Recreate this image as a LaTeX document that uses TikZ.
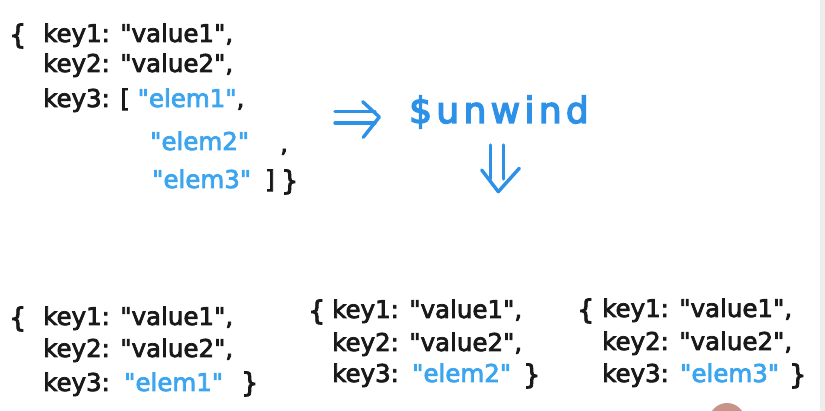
\documentclass[tikz,border=0pt]{standalone}
\usepackage{fontspec}
\setmainfont{DejaVu Sans}[Ligatures=TeXOff, FakeBold=3]
\newfontfamily\handwide{DejaVu Sans}[Ligatures=TeXOff, LetterSpace=12, FakeBold=4]
\newcommand{\dq}{\char"22\relax}
\definecolor{ink}{RGB}{25,25,25}
\definecolor{elemblue}{RGB}{60,165,240}
\definecolor{opblue}{RGB}{45,145,232}
\definecolor{skin}{RGB}{200,148,138}
\tikzset{
  txt/.style={anchor=base west, inner sep=0pt, font=\fontsize{24.5}{24.5}\selectfont, text=ink},
  bluetxt/.style={txt, text=elemblue},
  bracetxt/.style={anchor=base west, inner sep=0pt, font=\fontsize{27}{27}\selectfont, text=ink},
  oparrow/.style={draw=opblue, line width=3.4pt, line cap=round, line join=round},
}
\begin{document}
\begin{tikzpicture}[x=1pt,y=-1pt]
\useasboundingbox (0,0) rectangle (825,411);
\fill[white] (0,0) rectangle (825,411);
\fill[black!7] (820,0) rectangle (825,411);

% top document
\node[bracetxt] (tb) at (9,44) {\{};
\node[txt] (t1) at (43,42) {key1: \dq value1\dq,};
\node[txt] (t2) at (43,72) {key2: \dq value2\dq,};
\node[txt] (t3) at (43,107) {key3: [ \textcolor{elemblue}{\dq elem1\dq},};
\node[bluetxt] (t4) at (150,150) {\dq elem2\dq};
\node[txt] (t4c) at (280,152) {,};
\node[bluetxt] (t5) at (152,188) {\dq elem3\dq};
\node[txt] (t5a) at (265,188) {]};
\node[bracetxt] (t5b) at (281,190) {\}};

% operator
\node[anchor=base west, inner sep=0pt, font=\handwide\fontsize{36}{36}\selectfont, text=opblue] (uw) at (409,123) {\$unwind};

% right double arrow
\coordinate (ra1) at (335,111.7); \coordinate (ra2) at (375,111.7);
\coordinate (rb1) at (335,123);   \coordinate (rb2) at (375,123);
\coordinate (rc1) at (362.7,101.7); \coordinate (rtip) at (379.3,117); \coordinate (rc2) at (363.3,137.3);
\draw[oparrow] (ra1) -- (ra2);
\draw[oparrow] (rb1) -- (rb2);
\draw[oparrow] (rc1) -- (rtip) -- (rc2);

% down double arrow
\coordinate (da1) at (490.7,145); \coordinate (da2) at (490.7,179);
\coordinate (db1) at (503.3,145); \coordinate (db2) at (503.3,179);
\coordinate (dc1) at (481.7,170); \coordinate (dtip) at (498.3,191.7); \coordinate (dc2) at (519.3,168.3);
\draw[oparrow] (da1) -- (da2);
\draw[oparrow] (db1) -- (db2);
\draw[oparrow] (dc1) -- (dtip) -- (dc2);

% result 1
\node[bracetxt] (ab) at (9,327) {\{};
\node[txt] (a1) at (43,325) {key1: \dq value1\dq,};
\node[txt] (a2) at (43,357) {key2: \dq value2\dq,};
\node[txt] (a3) at (43,391) {key3:};
\node[bluetxt] (a3v) at (124,391) {\dq elem1\dq};
\node[bracetxt] (ae) at (241,392) {\}};

% result 2
\node[bracetxt] (bb) at (308,320) {\{};
\node[txt] (b1) at (332,318) {key1: \dq value1\dq,};
\node[txt] (b2) at (332,351) {key2: \dq value2\dq,};
\node[txt] (b3) at (332,382) {key3:};
\node[bluetxt] (b3v) at (412,382) {\dq elem2\dq};
\node[bracetxt] (be) at (523,384) {\}};

% result 3
\node[bracetxt] (cb) at (577,319) {\{};
\node[txt] (c1) at (602,317) {key1: \dq value1\dq,};
\node[txt] (c2) at (602,350) {key2: \dq value2\dq,};
\node[txt] (c3) at (602,382) {key3:};
\node[bluetxt] (c3v) at (680,382) {\dq elem3\dq};
\node[bracetxt] (ce) at (789,384) {\}};

% presenter's hand at bottom edge
\fill[skin] (727,421) ellipse [x radius=18, y radius=18];
\end{tikzpicture}
\end{document}
